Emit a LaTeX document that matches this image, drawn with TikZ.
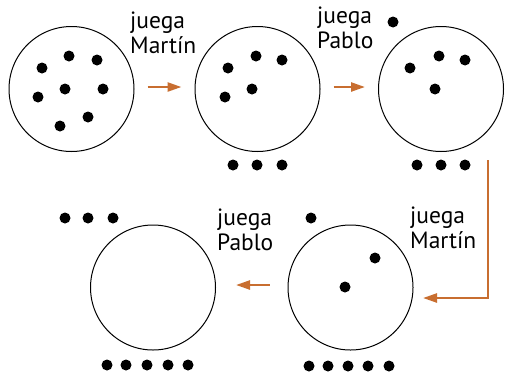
\documentclass[tikz,border=0pt]{standalone}
\usepackage{fontspec}
\setmainfont{PT Sans}
\usetikzlibrary{arrows.meta}
\definecolor{flecha}{RGB}{200,110,48}

\begin{document}
\begin{tikzpicture}[x=1pt, y=-1pt, main/.style = {draw, circle, line width=1pt, minimum size=125pt, inner sep=0pt},
  dot/.style = {fill=black, circle, inner sep=0pt, minimum size=11pt},
  arr/.style = {draw=flecha, line width=2.4pt, -{Triangle[length=14pt, width=9pt]}},
  txt/.style = {anchor=base west, inner sep=0pt, align=left, font=\fontsize{23.5}{24.5}\selectfont}]
\useasboundingbox (0,0) rectangle (505,375);
\node[main] (1) at (71.5,89) {};
\node[main] (2) at (257.5,89) {};
\node[main] (3) at (441,89) {};
\node[main] (4) at (350.5,287.5) {};
\node[main] (5) at (153,287.5) {};
% fichas
\foreach \x/\y in {69/56, 97/60, 42/68, 65/89, 103/89, 38/97, 88/117, 60/126} \node[dot] at (\x,\y) {};
\foreach \x/\y in {228/68, 256/56, 282/60, 252/89, 225/97, 233/165, 257/165, 282/165} \node[dot] at (\x,\y) {};
\foreach \x/\y in {393/22, 410/68, 439/56, 465/60, 435/89, 417/165, 441/165, 465/165} \node[dot] at (\x,\y) {};
\foreach \x/\y in {311/218, 375/258, 345/287, 309/366, 328/366, 348/366, 368/366, 389/366} \node[dot] at (\x,\y) {};
\foreach \x/\y in {65/218, 88/218, 113/218, 107/365, 126/365, 147/365, 168/365, 188/365} \node[dot] at (\x,\y) {};
% jugadas (base = ultima linea)
\node[txt] (m1) at (130,53) {juega\\Martín};
\node[txt] (p1) at (317,48) {juega\\Pablo};
\node[txt] (m2) at (410,248) {juega\\Martín};
\node[txt] (p2) at (217,250) {juega\\Pablo};
\coordinate (a3) at (488,160);
\coordinate (b3) at (423,298);
\draw[arr, shorten <=13pt, shorten >=13pt] ([yshift=2pt]1.east) -- ([yshift=2pt]2.west);
\draw[arr, shorten <=13pt, shorten >=13pt] ([yshift=2pt]2.east) -- ([yshift=2pt]3.west);
\draw[arr] (a3) |- (b3);
\draw[arr, shorten <=18pt, shorten >=20pt] ([yshift=2.5pt]4.west) -- ([yshift=2.5pt]5.east);
\end{tikzpicture}
\end{document}
